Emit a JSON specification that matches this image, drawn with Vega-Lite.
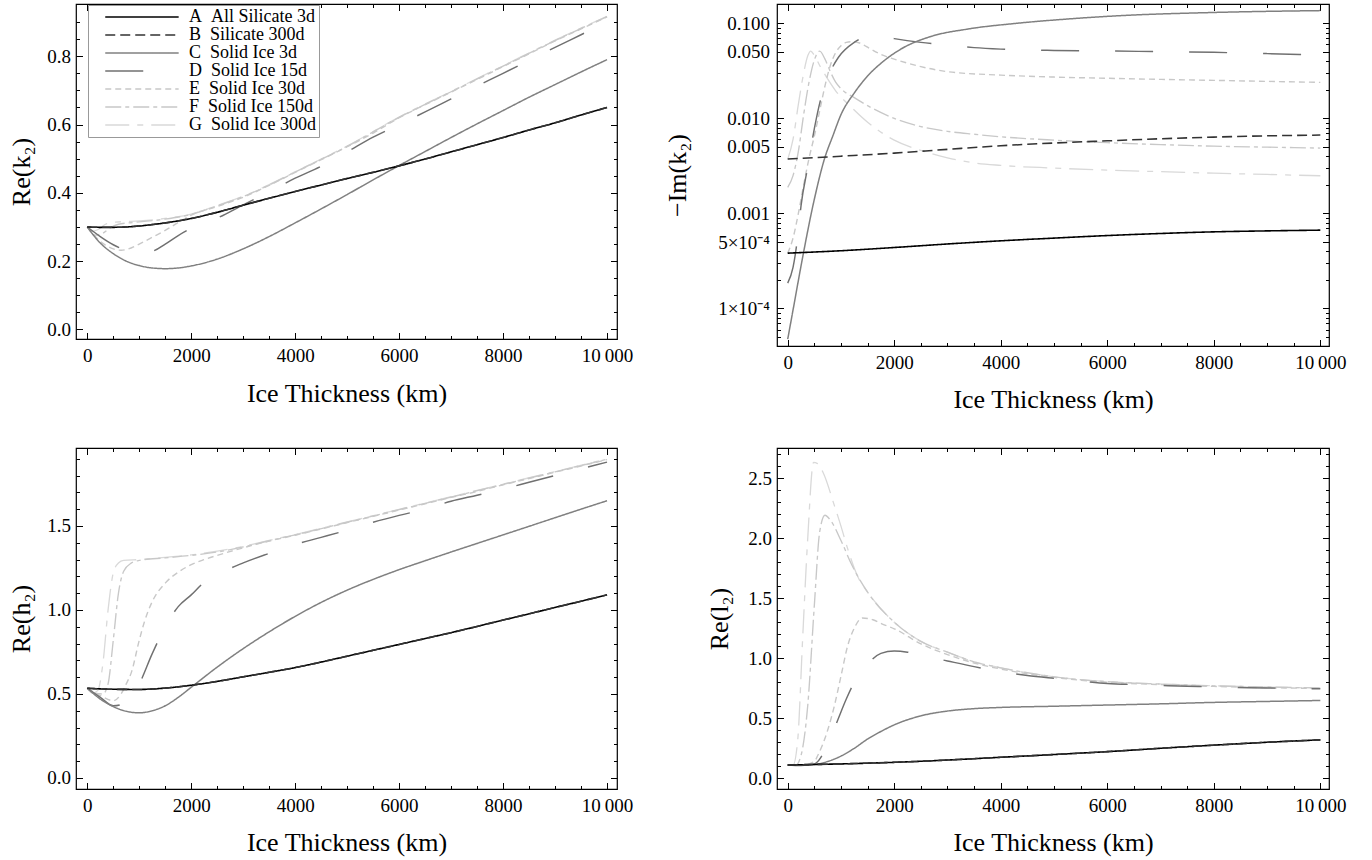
{
"$schema":"https://vega.github.io/schema/vega-lite/v6.json",
"background":"white",
"padding":{"left":7,"top":2,"right":5,"bottom":5},
"autosize":{"type":"pad"},
"config":{
 "view":{"stroke":"#000","strokeWidth":1.2},
 "axis":{"labelFont":"Liberation Serif","titleFont":"Liberation Serif","labelFontSize":19,"titleFontSize":26,"titleFontWeight":"normal","labelColor":"#000","titleColor":"#000","tickColor":"#000","domain":false,"grid":false,"tickWidth":1,"labelFlush":false,"labelOverlap":false,"labelBound":false}
},
"datasets":{
"p1":[
{"s":"G","x":0,"y":0.30},{"s":"G","x":80,"y":0.287},{"s":"G","x":200,"y":0.292},{"s":"G","x":350,"y":0.308},{"s":"G","x":500,"y":0.314},{"s":"G","x":750,"y":0.316},{"s":"G","x":1000,"y":0.318},{"s":"G","x":1500,"y":0.325},{"s":"G","x":2000,"y":0.338},{"s":"G","x":2500,"y":0.363},{"s":"G","x":3000,"y":0.39},{"s":"G","x":3500,"y":0.424},{"s":"G","x":4000,"y":0.462},{"s":"G","x":5000,"y":0.537},{"s":"G","x":6000,"y":0.622},{"s":"G","x":7000,"y":0.697},{"s":"G","x":8000,"y":0.772},{"s":"G","x":9000,"y":0.847},{"s":"G","x":10000,"y":0.917},
{"s":"F","x":0,"y":0.30},{"s":"F","x":150,"y":0.276},{"s":"F","x":300,"y":0.282},{"s":"F","x":450,"y":0.298},{"s":"F","x":600,"y":0.308},{"s":"F","x":800,"y":0.312},{"s":"F","x":1000,"y":0.315},{"s":"F","x":1500,"y":0.323},{"s":"F","x":2000,"y":0.337},{"s":"F","x":2500,"y":0.362},{"s":"F","x":3000,"y":0.389},{"s":"F","x":3500,"y":0.423},{"s":"F","x":4000,"y":0.461},{"s":"F","x":5000,"y":0.536},{"s":"F","x":6000,"y":0.621},{"s":"F","x":7000,"y":0.696},{"s":"F","x":8000,"y":0.771},{"s":"F","x":9000,"y":0.846},{"s":"F","x":10000,"y":0.916},
{"s":"E","x":0,"y":0.30},{"s":"E","x":250,"y":0.258},{"s":"E","x":500,"y":0.236},{"s":"E","x":650,"y":0.232},{"s":"E","x":750,"y":0.234},{"s":"E","x":1000,"y":0.25},{"s":"E","x":1250,"y":0.27},{"s":"E","x":1500,"y":0.29},{"s":"E","x":1750,"y":0.313},{"s":"E","x":2000,"y":0.335},{"s":"E","x":2500,"y":0.36},{"s":"E","x":3000,"y":0.387},{"s":"E","x":3500,"y":0.422},{"s":"E","x":4000,"y":0.46},{"s":"E","x":4500,"y":0.497},{"s":"E","x":5000,"y":0.535},{"s":"E","x":5500,"y":0.575},{"s":"E","x":6000,"y":0.62},{"s":"E","x":6500,"y":0.658},{"s":"E","x":7000,"y":0.695},{"s":"E","x":7500,"y":0.732},{"s":"E","x":8000,"y":0.77},{"s":"E","x":8500,"y":0.807},{"s":"E","x":9000,"y":0.845},{"s":"E","x":9500,"y":0.88},{"s":"E","x":10000,"y":0.915},
{"s":"D","x":0,"y":0.30},{"s":"D","x":250,"y":0.272},{"s":"D","x":500,"y":0.248},{"s":"D","x":750,"y":0.232},{"s":"D","x":1000,"y":0.225},{"s":"D","x":1250,"y":0.229},{"s":"D","x":1500,"y":0.25},{"s":"D","x":1750,"y":0.275},{"s":"D","x":2000,"y":0.296},{"s":"D","x":2500,"y":0.326},{"s":"D","x":3000,"y":0.365},{"s":"D","x":3500,"y":0.403},{"s":"D","x":4000,"y":0.443},{"s":"D","x":4500,"y":0.478},{"s":"D","x":5000,"y":0.52},{"s":"D","x":5500,"y":0.563},{"s":"D","x":6000,"y":0.60},{"s":"D","x":6500,"y":0.637},{"s":"D","x":7000,"y":0.675},{"s":"D","x":7500,"y":0.713},{"s":"D","x":8000,"y":0.75},{"s":"D","x":8500,"y":0.788},{"s":"D","x":9000,"y":0.826},{"s":"D","x":9500,"y":0.863},{"s":"D","x":10000,"y":0.90},
{"s":"C","x":0,"y":0.30},{"s":"C","x":250,"y":0.253},{"s":"C","x":500,"y":0.222},{"s":"C","x":750,"y":0.20},{"s":"C","x":1000,"y":0.187},{"s":"C","x":1250,"y":0.18},{"s":"C","x":1500,"y":0.178},{"s":"C","x":1750,"y":0.18},{"s":"C","x":2000,"y":0.186},{"s":"C","x":2500,"y":0.206},{"s":"C","x":3000,"y":0.236},{"s":"C","x":3500,"y":0.272},{"s":"C","x":4000,"y":0.312},{"s":"C","x":4500,"y":0.353},{"s":"C","x":5000,"y":0.395},{"s":"C","x":5500,"y":0.438},{"s":"C","x":6000,"y":0.48},{"s":"C","x":6500,"y":0.521},{"s":"C","x":7000,"y":0.562},{"s":"C","x":7500,"y":0.602},{"s":"C","x":8000,"y":0.641},{"s":"C","x":8500,"y":0.68},{"s":"C","x":9000,"y":0.717},{"s":"C","x":9500,"y":0.754},{"s":"C","x":10000,"y":0.79},
{"s":"A","x":0,"y":0.30},{"s":"A","x":250,"y":0.299},{"s":"A","x":500,"y":0.299},{"s":"A","x":750,"y":0.30},{"s":"A","x":1000,"y":0.303},{"s":"A","x":1500,"y":0.312},{"s":"A","x":2000,"y":0.325},{"s":"A","x":2500,"y":0.343},{"s":"A","x":3000,"y":0.364},{"s":"A","x":3500,"y":0.384},{"s":"A","x":4000,"y":0.404},{"s":"A","x":4500,"y":0.423},{"s":"A","x":5000,"y":0.442},{"s":"A","x":5500,"y":0.46},{"s":"A","x":6000,"y":0.479},{"s":"A","x":6500,"y":0.499},{"s":"A","x":7000,"y":0.52},{"s":"A","x":7500,"y":0.541},{"s":"A","x":8000,"y":0.562},{"s":"A","x":8500,"y":0.584},{"s":"A","x":9000,"y":0.605},{"s":"A","x":9500,"y":0.628},{"s":"A","x":10000,"y":0.65},
{"s":"B","x":0,"y":0.30},{"s":"B","x":250,"y":0.299},{"s":"B","x":500,"y":0.299},{"s":"B","x":750,"y":0.30},{"s":"B","x":1000,"y":0.303},{"s":"B","x":1500,"y":0.312},{"s":"B","x":2000,"y":0.325},{"s":"B","x":2500,"y":0.343},{"s":"B","x":3000,"y":0.364},{"s":"B","x":3500,"y":0.384},{"s":"B","x":4000,"y":0.404},{"s":"B","x":4500,"y":0.423},{"s":"B","x":5000,"y":0.442},{"s":"B","x":5500,"y":0.46},{"s":"B","x":6000,"y":0.479},{"s":"B","x":6500,"y":0.499},{"s":"B","x":7000,"y":0.52},{"s":"B","x":7500,"y":0.541},{"s":"B","x":8000,"y":0.562},{"s":"B","x":8500,"y":0.584},{"s":"B","x":9000,"y":0.605},{"s":"B","x":9500,"y":0.628},{"s":"B","x":10000,"y":0.65}
],
"p2":[
{"s":"G","x":0,"y":0.0037},{"s":"G","x":100,"y":0.006},{"s":"G","x":200,"y":0.014},{"s":"G","x":300,"y":0.03},{"s":"G","x":380,"y":0.046},{"s":"G","x":430,"y":0.051},{"s":"G","x":500,"y":0.046},{"s":"G","x":600,"y":0.036},{"s":"G","x":750,"y":0.026},{"s":"G","x":900,"y":0.0195},{"s":"G","x":1200,"y":0.013},{"s":"G","x":1500,"y":0.0091},{"s":"G","x":2000,"y":0.0059},{"s":"G","x":2500,"y":0.0046},{"s":"G","x":3000,"y":0.00385},{"s":"G","x":3500,"y":0.0034},{"s":"G","x":4000,"y":0.0032},{"s":"G","x":5000,"y":0.003},{"s":"G","x":6000,"y":0.00285},{"s":"G","x":7000,"y":0.00275},{"s":"G","x":8000,"y":0.00265},{"s":"G","x":9000,"y":0.00257},{"s":"G","x":10000,"y":0.00249},
{"s":"F","x":0,"y":0.00188},{"s":"F","x":100,"y":0.0025},{"s":"F","x":200,"y":0.0045},{"s":"F","x":300,"y":0.011},{"s":"F","x":400,"y":0.024},{"s":"F","x":500,"y":0.041},{"s":"F","x":600,"y":0.051},{"s":"F","x":700,"y":0.042},{"s":"F","x":800,"y":0.031},{"s":"F","x":900,"y":0.024},{"s":"F","x":1000,"y":0.0205},{"s":"F","x":1250,"y":0.0165},{"s":"F","x":1500,"y":0.0136},{"s":"F","x":2000,"y":0.01},{"s":"F","x":2500,"y":0.0082},{"s":"F","x":3000,"y":0.0073},{"s":"F","x":3500,"y":0.0068},{"s":"F","x":4000,"y":0.0064},{"s":"F","x":5000,"y":0.0059},{"s":"F","x":6000,"y":0.00555},{"s":"F","x":7000,"y":0.0053},{"s":"F","x":8000,"y":0.0051},{"s":"F","x":9000,"y":0.00498},{"s":"F","x":10000,"y":0.00487},
{"s":"E","x":0,"y":0.00038},{"s":"E","x":100,"y":0.00055},{"s":"E","x":200,"y":0.001},{"s":"E","x":300,"y":0.002},{"s":"E","x":400,"y":0.0038},{"s":"E","x":500,"y":0.0065},{"s":"E","x":600,"y":0.012},{"s":"E","x":700,"y":0.022},{"s":"E","x":800,"y":0.036},{"s":"E","x":900,"y":0.049},{"s":"E","x":1000,"y":0.058},{"s":"E","x":1100,"y":0.063},{"s":"E","x":1200,"y":0.064},{"s":"E","x":1350,"y":0.062},{"s":"E","x":1500,"y":0.056},{"s":"E","x":1750,"y":0.047},{"s":"E","x":2000,"y":0.042},{"s":"E","x":2500,"y":0.035},{"s":"E","x":3000,"y":0.031},{"s":"E","x":4000,"y":0.0285},{"s":"E","x":5000,"y":0.0272},{"s":"E","x":6000,"y":0.0264},{"s":"E","x":7000,"y":0.0257},{"s":"E","x":8000,"y":0.0251},{"s":"E","x":9000,"y":0.0245},{"s":"E","x":10000,"y":0.0239},
{"s":"D","x":0,"y":0.000185},{"s":"D","x":100,"y":0.00027},{"s":"D","x":200,"y":0.00065},{"s":"D","x":250,"y":0.0012},{"s":"D","x":375,"y":0.00305},{"s":"D","x":500,"y":0.0078},{"s":"D","x":650,"y":0.0185},{"s":"D","x":800,"y":0.031},{"s":"D","x":950,"y":0.0437},{"s":"D","x":1250,"y":0.063},{"s":"D","x":1500,"y":0.073},{"s":"D","x":1750,"y":0.073},{"s":"D","x":2000,"y":0.069},{"s":"D","x":2500,"y":0.063},{"s":"D","x":3000,"y":0.059},{"s":"D","x":3500,"y":0.0555},{"s":"D","x":4000,"y":0.0535},{"s":"D","x":5000,"y":0.0518},{"s":"D","x":6000,"y":0.0512},{"s":"D","x":7000,"y":0.0503},{"s":"D","x":8000,"y":0.0495},{"s":"D","x":9000,"y":0.048},{"s":"D","x":10000,"y":0.0463},
{"s":"C","x":0,"y":0.0000475},{"s":"C","x":125,"y":0.000115},{"s":"C","x":250,"y":0.00028},{"s":"C","x":500,"y":0.00141},{"s":"C","x":689,"y":0.00373},{"s":"C","x":850,"y":0.0066},{"s":"C","x":1002,"y":0.011},{"s":"C","x":1250,"y":0.0185},{"s":"C","x":1503,"y":0.028},{"s":"C","x":1800,"y":0.04},{"s":"C","x":2129,"y":0.0537},{"s":"C","x":2700,"y":0.073},{"s":"C","x":3381,"y":0.087},{"s":"C","x":4300,"y":0.1},{"s":"C","x":5260,"y":0.111},{"s":"C","x":6200,"y":0.12},{"s":"C","x":8000,"y":0.13},{"s":"C","x":10000,"y":0.136},
{"s":"A","x":0,"y":0.000382},{"s":"A","x":1000,"y":0.000405},{"s":"A","x":2000,"y":0.000438},{"s":"A","x":3000,"y":0.000477},{"s":"A","x":4000,"y":0.000515},{"s":"A","x":5000,"y":0.00055},{"s":"A","x":6000,"y":0.000585},{"s":"A","x":7000,"y":0.000615},{"s":"A","x":8000,"y":0.00064},{"s":"A","x":9000,"y":0.000655},{"s":"A","x":10000,"y":0.000667},
{"s":"B","x":0,"y":0.00373},{"s":"B","x":1000,"y":0.004},{"s":"B","x":2000,"y":0.00431},{"s":"B","x":3000,"y":0.00472},{"s":"B","x":4000,"y":0.00515},{"s":"B","x":5000,"y":0.0055},{"s":"B","x":6000,"y":0.0058},{"s":"B","x":7000,"y":0.0061},{"s":"B","x":8000,"y":0.00635},{"s":"B","x":9000,"y":0.00655},{"s":"B","x":10000,"y":0.00667}
],
"p3":[
{"s":"G","x":0,"y":0.534},{"s":"G","x":100,"y":0.505},{"s":"G","x":200,"y":0.52},{"s":"G","x":300,"y":0.68},{"s":"G","x":400,"y":1.0},{"s":"G","x":500,"y":1.22},{"s":"G","x":600,"y":1.28},{"s":"G","x":700,"y":1.295},{"s":"G","x":1000,"y":1.30},{"s":"G","x":1500,"y":1.313},{"s":"G","x":2000,"y":1.328},{"s":"G","x":2500,"y":1.35},{"s":"G","x":3000,"y":1.378},{"s":"G","x":3500,"y":1.414},{"s":"G","x":4000,"y":1.449},{"s":"G","x":5000,"y":1.524},{"s":"G","x":6000,"y":1.599},{"s":"G","x":7000,"y":1.674},{"s":"G","x":8000,"y":1.749},{"s":"G","x":9000,"y":1.824},{"s":"G","x":10000,"y":1.899},
{"s":"F","x":0,"y":0.534},{"s":"F","x":150,"y":0.505},{"s":"F","x":300,"y":0.50},{"s":"F","x":400,"y":0.56},{"s":"F","x":500,"y":0.82},{"s":"F","x":600,"y":1.10},{"s":"F","x":700,"y":1.23},{"s":"F","x":850,"y":1.28},{"s":"F","x":1000,"y":1.295},{"s":"F","x":1500,"y":1.31},{"s":"F","x":2000,"y":1.325},{"s":"F","x":2500,"y":1.345},{"s":"F","x":3000,"y":1.375},{"s":"F","x":3500,"y":1.412},{"s":"F","x":4000,"y":1.447},{"s":"F","x":5000,"y":1.522},{"s":"F","x":6000,"y":1.597},{"s":"F","x":7000,"y":1.672},{"s":"F","x":8000,"y":1.747},{"s":"F","x":9000,"y":1.822},{"s":"F","x":10000,"y":1.897},
{"s":"E","x":0,"y":0.534},{"s":"E","x":250,"y":0.49},{"s":"E","x":500,"y":0.46},{"s":"E","x":650,"y":0.50},{"s":"E","x":750,"y":0.56},{"s":"E","x":850,"y":0.63},{"s":"E","x":1000,"y":0.82},{"s":"E","x":1100,"y":0.93},{"s":"E","x":1250,"y":1.05},{"s":"E","x":1500,"y":1.16},{"s":"E","x":1750,"y":1.225},{"s":"E","x":2000,"y":1.27},{"s":"E","x":2250,"y":1.30},{"s":"E","x":2500,"y":1.325},{"s":"E","x":3000,"y":1.37},{"s":"E","x":3500,"y":1.41},{"s":"E","x":4000,"y":1.445},{"s":"E","x":4500,"y":1.482},{"s":"E","x":5000,"y":1.52},{"s":"E","x":5500,"y":1.557},{"s":"E","x":6000,"y":1.595},{"s":"E","x":6500,"y":1.632},{"s":"E","x":7000,"y":1.67},{"s":"E","x":7500,"y":1.705},{"s":"E","x":8000,"y":1.745},{"s":"E","x":8500,"y":1.782},{"s":"E","x":9000,"y":1.82},{"s":"E","x":9500,"y":1.857},{"s":"E","x":10000,"y":1.895},
{"s":"D","x":0,"y":0.534},{"s":"D","x":250,"y":0.48},{"s":"D","x":500,"y":0.43},{"s":"D","x":750,"y":0.45},{"s":"D","x":1000,"y":0.56},{"s":"D","x":1250,"y":0.74},{"s":"D","x":1500,"y":0.90},{"s":"D","x":1750,"y":1.02},{"s":"D","x":2000,"y":1.09},{"s":"D","x":2250,"y":1.165},{"s":"D","x":2500,"y":1.21},{"s":"D","x":3000,"y":1.28},{"s":"D","x":3500,"y":1.337},{"s":"D","x":4000,"y":1.39},{"s":"D","x":4500,"y":1.432},{"s":"D","x":5000,"y":1.475},{"s":"D","x":5500,"y":1.522},{"s":"D","x":6000,"y":1.563},{"s":"D","x":6500,"y":1.60},{"s":"D","x":7000,"y":1.647},{"s":"D","x":7500,"y":1.683},{"s":"D","x":8000,"y":1.72},{"s":"D","x":8500,"y":1.76},{"s":"D","x":9000,"y":1.80},{"s":"D","x":9500,"y":1.84},{"s":"D","x":10000,"y":1.88},
{"s":"C","x":0,"y":0.534},{"s":"C","x":250,"y":0.47},{"s":"C","x":500,"y":0.425},{"s":"C","x":750,"y":0.397},{"s":"C","x":1000,"y":0.388},{"s":"C","x":1250,"y":0.40},{"s":"C","x":1500,"y":0.43},{"s":"C","x":1750,"y":0.48},{"s":"C","x":2000,"y":0.54},{"s":"C","x":2500,"y":0.66},{"s":"C","x":3000,"y":0.77},{"s":"C","x":3500,"y":0.87},{"s":"C","x":4000,"y":0.962},{"s":"C","x":4500,"y":1.045},{"s":"C","x":5000,"y":1.118},{"s":"C","x":5500,"y":1.182},{"s":"C","x":6000,"y":1.24},{"s":"C","x":6500,"y":1.293},{"s":"C","x":7000,"y":1.345},{"s":"C","x":7500,"y":1.396},{"s":"C","x":8000,"y":1.447},{"s":"C","x":8500,"y":1.498},{"s":"C","x":9000,"y":1.549},{"s":"C","x":9500,"y":1.60},{"s":"C","x":10000,"y":1.65},
{"s":"A","x":0,"y":0.534},{"s":"A","x":500,"y":0.528},{"s":"A","x":1000,"y":0.527},{"s":"A","x":1500,"y":0.535},{"s":"A","x":2000,"y":0.552},{"s":"A","x":2500,"y":0.575},{"s":"A","x":3000,"y":0.602},{"s":"A","x":3500,"y":0.629},{"s":"A","x":4000,"y":0.657},{"s":"A","x":4500,"y":0.69},{"s":"A","x":5000,"y":0.725},{"s":"A","x":5500,"y":0.76},{"s":"A","x":6000,"y":0.795},{"s":"A","x":6500,"y":0.83},{"s":"A","x":7000,"y":0.865},{"s":"A","x":7500,"y":0.902},{"s":"A","x":8000,"y":0.94},{"s":"A","x":8500,"y":0.977},{"s":"A","x":9000,"y":1.015},{"s":"A","x":9500,"y":1.052},{"s":"A","x":10000,"y":1.09},
{"s":"B","x":0,"y":0.534},{"s":"B","x":500,"y":0.528},{"s":"B","x":1000,"y":0.527},{"s":"B","x":1500,"y":0.535},{"s":"B","x":2000,"y":0.552},{"s":"B","x":2500,"y":0.575},{"s":"B","x":3000,"y":0.602},{"s":"B","x":3500,"y":0.629},{"s":"B","x":4000,"y":0.657},{"s":"B","x":4500,"y":0.69},{"s":"B","x":5000,"y":0.725},{"s":"B","x":5500,"y":0.76},{"s":"B","x":6000,"y":0.795},{"s":"B","x":6500,"y":0.83},{"s":"B","x":7000,"y":0.865},{"s":"B","x":7500,"y":0.902},{"s":"B","x":8000,"y":0.94},{"s":"B","x":8500,"y":0.977},{"s":"B","x":9000,"y":1.015},{"s":"B","x":9500,"y":1.052},{"s":"B","x":10000,"y":1.09}
],
"p4":[
{"s":"G","x":0,"y":0.111},{"s":"G","x":100,"y":0.11},{"s":"G","x":190,"y":0.33},{"s":"G","x":280,"y":1.16},{"s":"G","x":375,"y":1.99},{"s":"G","x":485,"y":2.63},{"s":"G","x":560,"y":2.62},{"s":"G","x":660,"y":2.55},{"s":"G","x":877,"y":2.27},{"s":"G","x":1000,"y":2.1},{"s":"G","x":1127,"y":1.91},{"s":"G","x":1315,"y":1.68},{"s":"G","x":1500,"y":1.55},{"s":"G","x":2000,"y":1.30},{"s":"G","x":2500,"y":1.14},{"s":"G","x":3000,"y":1.05},{"s":"G","x":3500,"y":0.97},{"s":"G","x":4000,"y":0.92},{"s":"G","x":5000,"y":0.845},{"s":"G","x":6000,"y":0.805},{"s":"G","x":7000,"y":0.785},{"s":"G","x":8000,"y":0.77},{"s":"G","x":9000,"y":0.76},{"s":"G","x":10000,"y":0.752},
{"s":"F","x":0,"y":0.111},{"s":"F","x":150,"y":0.108},{"s":"F","x":250,"y":0.19},{"s":"F","x":375,"y":0.6},{"s":"F","x":500,"y":1.44},{"s":"F","x":600,"y":2.05},{"s":"F","x":700,"y":2.19},{"s":"F","x":800,"y":2.15},{"s":"F","x":1000,"y":1.98},{"s":"F","x":1200,"y":1.78},{"s":"F","x":1500,"y":1.55},{"s":"F","x":2000,"y":1.30},{"s":"F","x":2500,"y":1.14},{"s":"F","x":3000,"y":1.05},{"s":"F","x":3500,"y":0.97},{"s":"F","x":4000,"y":0.92},{"s":"F","x":5000,"y":0.845},{"s":"F","x":6000,"y":0.805},{"s":"F","x":7000,"y":0.785},{"s":"F","x":8000,"y":0.77},{"s":"F","x":9000,"y":0.76},{"s":"F","x":10000,"y":0.752},
{"s":"E","x":0,"y":0.111},{"s":"E","x":250,"y":0.108},{"s":"E","x":500,"y":0.14},{"s":"E","x":564,"y":0.19},{"s":"E","x":750,"y":0.40},{"s":"E","x":877,"y":0.605},{"s":"E","x":1000,"y":0.85},{"s":"E","x":1127,"y":1.105},{"s":"E","x":1250,"y":1.25},{"s":"E","x":1400,"y":1.335},{"s":"E","x":1600,"y":1.32},{"s":"E","x":1800,"y":1.28},{"s":"E","x":2000,"y":1.245},{"s":"E","x":2500,"y":1.12},{"s":"E","x":3000,"y":1.03},{"s":"E","x":3500,"y":0.96},{"s":"E","x":4000,"y":0.91},{"s":"E","x":4500,"y":0.87},{"s":"E","x":5000,"y":0.84},{"s":"E","x":6000,"y":0.80},{"s":"E","x":7000,"y":0.78},{"s":"E","x":8000,"y":0.765},{"s":"E","x":9000,"y":0.755},{"s":"E","x":10000,"y":0.748},
{"s":"D","x":0,"y":0.111},{"s":"D","x":250,"y":0.106},{"s":"D","x":500,"y":0.12},{"s":"D","x":750,"y":0.28},{"s":"D","x":940,"y":0.486},{"s":"D","x":1100,"y":0.66},{"s":"D","x":1250,"y":0.80},{"s":"D","x":1500,"y":0.95},{"s":"D","x":1750,"y":1.04},{"s":"D","x":2000,"y":1.06},{"s":"D","x":2250,"y":1.05},{"s":"D","x":2500,"y":1.025},{"s":"D","x":3000,"y":0.977},{"s":"D","x":3500,"y":0.93},{"s":"D","x":4000,"y":0.888},{"s":"D","x":4500,"y":0.856},{"s":"D","x":5000,"y":0.832},{"s":"D","x":5500,"y":0.81},{"s":"D","x":6000,"y":0.79},{"s":"D","x":6500,"y":0.78},{"s":"D","x":7000,"y":0.773},{"s":"D","x":7500,"y":0.767},{"s":"D","x":8000,"y":0.76},{"s":"D","x":9000,"y":0.752},{"s":"D","x":10000,"y":0.745},
{"s":"C","x":0,"y":0.111},{"s":"C","x":250,"y":0.108},{"s":"C","x":500,"y":0.115},{"s":"C","x":750,"y":0.14},{"s":"C","x":1000,"y":0.185},{"s":"C","x":1250,"y":0.25},{"s":"C","x":1500,"y":0.327},{"s":"C","x":1750,"y":0.39},{"s":"C","x":2000,"y":0.445},{"s":"C","x":2500,"y":0.52},{"s":"C","x":3000,"y":0.56},{"s":"C","x":3500,"y":0.58},{"s":"C","x":4000,"y":0.59},{"s":"C","x":5000,"y":0.60},{"s":"C","x":6000,"y":0.61},{"s":"C","x":7000,"y":0.62},{"s":"C","x":8000,"y":0.632},{"s":"C","x":9000,"y":0.64},{"s":"C","x":10000,"y":0.648},
{"s":"A","x":0,"y":0.111},{"s":"A","x":1000,"y":0.12},{"s":"A","x":2000,"y":0.133},{"s":"A","x":3000,"y":0.152},{"s":"A","x":4000,"y":0.175},{"s":"A","x":5000,"y":0.198},{"s":"A","x":6000,"y":0.222},{"s":"A","x":7000,"y":0.25},{"s":"A","x":8000,"y":0.276},{"s":"A","x":9000,"y":0.30},{"s":"A","x":10000,"y":0.32},
{"s":"B","x":0,"y":0.111},{"s":"B","x":1000,"y":0.12},{"s":"B","x":2000,"y":0.133},{"s":"B","x":3000,"y":0.152},{"s":"B","x":4000,"y":0.175},{"s":"B","x":5000,"y":0.198},{"s":"B","x":6000,"y":0.222},{"s":"B","x":7000,"y":0.25},{"s":"B","x":8000,"y":0.276},{"s":"B","x":9000,"y":0.30},{"s":"B","x":10000,"y":0.32}
]
},
"columns":2,
"spacing":{"row":102,"column":149},
"bounds":"flush",
"align":"all",
"resolve":{"scale":{"color":"independent","strokeDash":"independent","strokeWidth":"independent"}},
"concat":[
{
 "width":541,"height":335,"data":{"name":"p1"},
 "layer":[
  {"mark":{"type":"line","clip":true,"interpolate":"monotone"},
   "encoding":{
    "x":{"field":"x","type":"quantitative","scale":{"domain":[-217,10192],"nice":false,"zero":false},"axis":{"orient":"bottom","values":[0,2000,4000,6000,8000,10000],"tickSize":-6.5,"labelPadding":14,"labelExpr":"datum.value == 10000 ? '10\u2009000' : format(datum.value, 'd')","title":"Ice Thickness (km)","titleY":54,"titleBaseline":"middle"}},
    "y":{"field":"y","type":"quantitative","scale":{"domain":[-0.028,0.953],"nice":false,"zero":false},"axis":{"orient":"left","values":[0,0.2,0.4,0.6,0.8],"tickSize":-6.5,"labelPadding":12,"labelExpr":"format(datum.value, '.1f')","title":"Re(k₂)","titleX":-55,"titleBaseline":"middle"}},
    "color":{"field":"s","type":"nominal","scale":{"domain":["A","B","C","D","E","F","G"],"range":["#000000","#333333","#808080","#707070","#c8c8c8","#c8c8c8","#d9d9d9"]},
     "legend":{"orient":"none","legendX":12,"legendY":1,"title":null,"labelFont":"Liberation Serif","labelFontSize":18,"labelColor":"#000","symbolType":"M1,0L15,0","symbolSize":110,"symbolStrokeWidth":1.6,"labelOffset":80,"strokeColor":"#999","fillColor":"#fff","padding":3,"rowPadding":0,"labelLimit":0,
      "labelExpr":"datum.label == 'A' ? 'A\u00a0\u00a0All Silicate 3d' : datum.label == 'B' ? 'B\u00a0\u00a0Silicate 300d' : datum.label == 'C' ? 'C\u00a0\u00a0Solid Ice 3d' : datum.label == 'D' ? 'D\u00a0\u00a0Solid Ice 15d' : datum.label == 'E' ? 'E\u00a0\u00a0Solid Ice 30d' : datum.label == 'F' ? 'F\u00a0\u00a0Solid Ice 150d' : 'G\u00a0\u00a0Solid Ice 300d'"}},
    "strokeDash":{"field":"s","type":"nominal","scale":{"domain":["A","B","C","D","E","F","G"],"range":[[1,0],[10,5],[1,0],[38,36],[6,4],[16,4,4,4],[24,8,6,8]]},
     "legend":{"orient":"none","legendX":12,"legendY":1,"title":null,"labelFont":"Liberation Serif","labelFontSize":18,"labelColor":"#000","symbolType":"M1,0L15,0","symbolSize":110,"symbolStrokeWidth":1.6,"labelOffset":80,"strokeColor":"#999","fillColor":"#fff","padding":3,"rowPadding":0,"labelLimit":0,
      "labelExpr":"datum.label == 'A' ? 'A\u00a0\u00a0All Silicate 3d' : datum.label == 'B' ? 'B\u00a0\u00a0Silicate 300d' : datum.label == 'C' ? 'C\u00a0\u00a0Solid Ice 3d' : datum.label == 'D' ? 'D\u00a0\u00a0Solid Ice 15d' : datum.label == 'E' ? 'E\u00a0\u00a0Solid Ice 30d' : datum.label == 'F' ? 'F\u00a0\u00a0Solid Ice 150d' : 'G\u00a0\u00a0Solid Ice 300d'"}},
    "strokeWidth":{"field":"s","type":"nominal","scale":{"domain":["A","B","C","D","E","F","G"],"range":[1.6,1.3,1.2,1.2,1.2,1.2,1.2]},"legend":null}
   }},
  {"mark":{"type":"point","opacity":0},
   "encoding":{
    "x":{"field":"x","type":"quantitative","scale":{"domain":[-217,10192],"nice":false,"zero":false},"axis":{"orient":"bottom","values":[500,1000,1500,2500,3000,3500,4500,5000,5500,6500,7000,7500,8500,9000,9500],"tickSize":-3.5,"labels":false,"title":null}},
    "y":{"field":"y","type":"quantitative","scale":{"domain":[-0.028,0.953],"nice":false,"zero":false},"axis":{"orient":"left","values":[0.05,0.1,0.15,0.25,0.3,0.35,0.45,0.5,0.55,0.65,0.7,0.75,0.85,0.9],"tickSize":-3.5,"labels":false,"title":null}}}},
  {"mark":{"type":"point","opacity":0},
   "encoding":{
    "x":{"field":"x","type":"quantitative","scale":{"domain":[-217,10192],"nice":false,"zero":false},"axis":{"orient":"top","values":[0,2000,4000,6000,8000,10000],"tickSize":-6.5,"labels":false,"title":null}},
    "y":{"field":"y","type":"quantitative","scale":{"domain":[-0.028,0.953],"nice":false,"zero":false},"axis":{"orient":"right","values":[0,0.2,0.4,0.6,0.8],"tickSize":-6.5,"labels":false,"title":null}}}},
  {"mark":{"type":"point","opacity":0},
   "encoding":{
    "x":{"field":"x","type":"quantitative","scale":{"domain":[-217,10192],"nice":false,"zero":false},"axis":{"orient":"top","values":[500,1000,1500,2500,3000,3500,4500,5000,5500,6500,7000,7500,8500,9000,9500],"tickSize":-3.5,"labels":false,"title":null}},
    "y":{"field":"y","type":"quantitative","scale":{"domain":[-0.028,0.953],"nice":false,"zero":false},"axis":{"orient":"right","values":[0.05,0.1,0.15,0.25,0.3,0.35,0.45,0.5,0.55,0.65,0.7,0.75,0.85,0.9],"tickSize":-3.5,"labels":false,"title":null}}}}
 ],
 "resolve":{"axis":{"x":"independent","y":"independent"}}
},
{
 "width":552,"height":342,"data":{"name":"p2"},
 "layer":[
  {"mark":{"type":"line","clip":true,"interpolate":"monotone"},
   "encoding":{
    "x":{"field":"x","type":"quantitative","scale":{"domain":[-201,10163],"nice":false,"zero":false},"axis":{"orient":"bottom","values":[0,2000,4000,6000,8000,10000],"tickSize":-6.5,"labelPadding":14,"labelExpr":"datum.value == 10000 ? '10\u2009000' : format(datum.value, 'd')","title":"Ice Thickness (km)","titleY":53,"titleBaseline":"middle"}},
    "y":{"field":"y","type":"quantitative","scale":{"type":"log","domain":[0.0000403,0.1596],"nice":false},"axis":{"orient":"left","values":[0.0001,0.0005,0.001,0.005,0.01,0.05,0.1],"tickSize":-6.5,"labelPadding":14,"labelExpr":"datum.value == 0.1 ? '0.100' : datum.value == 0.05 ? '0.050' : datum.value == 0.01 ? '0.010' : datum.value == 0.005 ? '0.005' : datum.value == 0.001 ? '0.001' : datum.value == 0.0005 ? '5×10⁻⁴' : '1×10⁻⁴'","title":"−Im(k₂)","titleX":-100,"titleBaseline":"middle"}},
    "color":{"field":"s","type":"nominal","scale":{"domain":["A","B","C","D","E","F","G"],"range":["#000000","#333333","#808080","#707070","#c8c8c8","#c8c8c8","#d9d9d9"]},"legend":null},
    "strokeDash":{"field":"s","type":"nominal","scale":{"domain":["A","B","C","D","E","F","G"],"range":[[1,0],[10,5],[1,0],[38,36],[6,4],[16,4,4,4],[24,8,6,8]]},"legend":null},
    "strokeWidth":{"field":"s","type":"nominal","scale":{"domain":["A","B","C","D","E","F","G"],"range":[1.6,1.3,1.2,1.2,1.2,1.2,1.2]},"legend":null}
   }},
  {"mark":{"type":"point","opacity":0},
   "encoding":{
    "x":{"field":"x","type":"quantitative","scale":{"domain":[-201,10163],"nice":false,"zero":false},"axis":{"orient":"bottom","values":[500,1000,1500,2500,3000,3500,4500,5000,5500,6500,7000,7500,8500,9000,9500],"tickSize":-3.5,"labels":false,"title":null}},
    "y":{"field":"y","type":"quantitative","scale":{"type":"log","domain":[0.0000403,0.1596],"nice":false},"axis":{"orient":"left","values":[0.00005,0.00006,0.00007,0.00008,0.00009,0.0002,0.0003,0.0004,0.0006,0.0007,0.0008,0.0009,0.002,0.003,0.004,0.006,0.007,0.008,0.009,0.02,0.03,0.04,0.06,0.07,0.08,0.09],"tickSize":-3.5,"labels":false,"title":null}}}},
  {"mark":{"type":"point","opacity":0},
   "encoding":{
    "x":{"field":"x","type":"quantitative","scale":{"domain":[-201,10163],"nice":false,"zero":false},"axis":{"orient":"top","values":[0,2000,4000,6000,8000,10000],"tickSize":-6.5,"labels":false,"title":null}},
    "y":{"field":"y","type":"quantitative","scale":{"type":"log","domain":[0.0000403,0.1596],"nice":false},"axis":{"orient":"right","values":[0.0001,0.0005,0.001,0.005,0.01,0.05,0.1],"tickSize":-6.5,"labels":false,"title":null}}}},
  {"mark":{"type":"point","opacity":0},
   "encoding":{
    "x":{"field":"x","type":"quantitative","scale":{"domain":[-201,10163],"nice":false,"zero":false},"axis":{"orient":"top","values":[500,1000,1500,2500,3000,3500,4500,5000,5500,6500,7000,7500,8500,9000,9500],"tickSize":-3.5,"labels":false,"title":null}},
    "y":{"field":"y","type":"quantitative","scale":{"type":"log","domain":[0.0000403,0.1596],"nice":false},"axis":{"orient":"right","values":[0.00005,0.00006,0.00007,0.00008,0.00009,0.0002,0.0003,0.0004,0.0006,0.0007,0.0008,0.0009,0.002,0.003,0.004,0.006,0.007,0.008,0.009,0.02,0.03,0.04,0.06,0.07,0.08,0.09],"tickSize":-3.5,"labels":false,"title":null}}}}
 ],
 "resolve":{"axis":{"x":"independent","y":"independent"}}
},
{
 "width":541,"height":341,"data":{"name":"p3"},
 "layer":[
  {"mark":{"type":"line","clip":true,"interpolate":"monotone"},
   "encoding":{
    "x":{"field":"x","type":"quantitative","scale":{"domain":[-217,10192],"nice":false,"zero":false},"axis":{"orient":"bottom","values":[0,2000,4000,6000,8000,10000],"tickSize":-6.5,"labelPadding":14,"labelExpr":"datum.value == 10000 ? '10\u2009000' : format(datum.value, 'd')","title":"Ice Thickness (km)","titleY":53,"titleBaseline":"middle"}},
    "y":{"field":"y","type":"quantitative","scale":{"domain":[-0.0655,1.964],"nice":false,"zero":false},"axis":{"orient":"left","values":[0,0.5,1,1.5],"tickSize":-6.5,"labelPadding":12,"labelExpr":"format(datum.value, '.1f')","title":"Re(h₂)","titleX":-55,"titleBaseline":"middle"}},
    "color":{"field":"s","type":"nominal","scale":{"domain":["A","B","C","D","E","F","G"],"range":["#000000","#333333","#808080","#707070","#c8c8c8","#c8c8c8","#d9d9d9"]},"legend":null},
    "strokeDash":{"field":"s","type":"nominal","scale":{"domain":["A","B","C","D","E","F","G"],"range":[[1,0],[10,5],[1,0],[38,36],[6,4],[16,4,4,4],[24,8,6,8]]},"legend":null},
    "strokeWidth":{"field":"s","type":"nominal","scale":{"domain":["A","B","C","D","E","F","G"],"range":[1.6,1.3,1.2,1.2,1.2,1.2,1.2]},"legend":null}
   }},
  {"mark":{"type":"point","opacity":0},
   "encoding":{
    "x":{"field":"x","type":"quantitative","scale":{"domain":[-217,10192],"nice":false,"zero":false},"axis":{"orient":"bottom","values":[500,1000,1500,2500,3000,3500,4500,5000,5500,6500,7000,7500,8500,9000,9500],"tickSize":-3.5,"labels":false,"title":null}},
    "y":{"field":"y","type":"quantitative","scale":{"domain":[-0.0655,1.964],"nice":false,"zero":false},"axis":{"orient":"left","values":[0.1,0.2,0.3,0.4,0.6,0.7,0.8,0.9,1.1,1.2,1.3,1.4,1.6,1.7,1.8,1.9],"tickSize":-3.5,"labels":false,"title":null}}}},
  {"mark":{"type":"point","opacity":0},
   "encoding":{
    "x":{"field":"x","type":"quantitative","scale":{"domain":[-217,10192],"nice":false,"zero":false},"axis":{"orient":"top","values":[0,2000,4000,6000,8000,10000],"tickSize":-6.5,"labels":false,"title":null}},
    "y":{"field":"y","type":"quantitative","scale":{"domain":[-0.0655,1.964],"nice":false,"zero":false},"axis":{"orient":"right","values":[0,0.5,1,1.5],"tickSize":-6.5,"labels":false,"title":null}}}},
  {"mark":{"type":"point","opacity":0},
   "encoding":{
    "x":{"field":"x","type":"quantitative","scale":{"domain":[-217,10192],"nice":false,"zero":false},"axis":{"orient":"top","values":[500,1000,1500,2500,3000,3500,4500,5000,5500,6500,7000,7500,8500,9000,9500],"tickSize":-3.5,"labels":false,"title":null}},
    "y":{"field":"y","type":"quantitative","scale":{"domain":[-0.0655,1.964],"nice":false,"zero":false},"axis":{"orient":"right","values":[0.1,0.2,0.3,0.4,0.6,0.7,0.8,0.9,1.1,1.2,1.3,1.4,1.6,1.7,1.8,1.9],"tickSize":-3.5,"labels":false,"title":null}}}}
 ],
 "resolve":{"axis":{"x":"independent","y":"independent"}}
},
{
 "width":552,"height":341,"data":{"name":"p4"},
 "layer":[
  {"mark":{"type":"line","clip":true,"interpolate":"monotone"},
   "encoding":{
    "x":{"field":"x","type":"quantitative","scale":{"domain":[-201,10163],"nice":false,"zero":false},"axis":{"orient":"bottom","values":[0,2000,4000,6000,8000,10000],"tickSize":-6.5,"labelPadding":14,"labelExpr":"datum.value == 10000 ? '10\u2009000' : format(datum.value, 'd')","title":"Ice Thickness (km)","titleY":53,"titleBaseline":"middle"}},
    "y":{"field":"y","type":"quantitative","scale":{"domain":[-0.089,2.75],"nice":false,"zero":false},"axis":{"orient":"left","values":[0,0.5,1,1.5,2,2.5],"tickSize":-6.5,"labelPadding":12,"labelExpr":"format(datum.value, '.1f')","title":"Re(l₂)","titleX":-58,"titleBaseline":"middle"}},
    "color":{"field":"s","type":"nominal","scale":{"domain":["A","B","C","D","E","F","G"],"range":["#000000","#333333","#808080","#707070","#c8c8c8","#c8c8c8","#d9d9d9"]},"legend":null},
    "strokeDash":{"field":"s","type":"nominal","scale":{"domain":["A","B","C","D","E","F","G"],"range":[[1,0],[10,5],[1,0],[38,36],[6,4],[16,4,4,4],[24,8,6,8]]},"legend":null},
    "strokeWidth":{"field":"s","type":"nominal","scale":{"domain":["A","B","C","D","E","F","G"],"range":[1.6,1.3,1.2,1.2,1.2,1.2,1.2]},"legend":null}
   }},
  {"mark":{"type":"point","opacity":0},
   "encoding":{
    "x":{"field":"x","type":"quantitative","scale":{"domain":[-201,10163],"nice":false,"zero":false},"axis":{"orient":"bottom","values":[500,1000,1500,2500,3000,3500,4500,5000,5500,6500,7000,7500,8500,9000,9500],"tickSize":-3.5,"labels":false,"title":null}},
    "y":{"field":"y","type":"quantitative","scale":{"domain":[-0.089,2.75],"nice":false,"zero":false},"axis":{"orient":"left","values":[0.1,0.2,0.3,0.4,0.6,0.7,0.8,0.9,1.1,1.2,1.3,1.4,1.6,1.7,1.8,1.9,2.1,2.2,2.3,2.4,2.6,2.7],"tickSize":-3.5,"labels":false,"title":null}}}},
  {"mark":{"type":"point","opacity":0},
   "encoding":{
    "x":{"field":"x","type":"quantitative","scale":{"domain":[-201,10163],"nice":false,"zero":false},"axis":{"orient":"top","values":[0,2000,4000,6000,8000,10000],"tickSize":-6.5,"labels":false,"title":null}},
    "y":{"field":"y","type":"quantitative","scale":{"domain":[-0.089,2.75],"nice":false,"zero":false},"axis":{"orient":"right","values":[0,0.5,1,1.5,2,2.5],"tickSize":-6.5,"labels":false,"title":null}}}},
  {"mark":{"type":"point","opacity":0},
   "encoding":{
    "x":{"field":"x","type":"quantitative","scale":{"domain":[-201,10163],"nice":false,"zero":false},"axis":{"orient":"top","values":[500,1000,1500,2500,3000,3500,4500,5000,5500,6500,7000,7500,8500,9000,9500],"tickSize":-3.5,"labels":false,"title":null}},
    "y":{"field":"y","type":"quantitative","scale":{"domain":[-0.089,2.75],"nice":false,"zero":false},"axis":{"orient":"right","values":[0.1,0.2,0.3,0.4,0.6,0.7,0.8,0.9,1.1,1.2,1.3,1.4,1.6,1.7,1.8,1.9,2.1,2.2,2.3,2.4,2.6,2.7],"tickSize":-3.5,"labels":false,"title":null}}}}
 ],
 "resolve":{"axis":{"x":"independent","y":"independent"}}
}
]
}
